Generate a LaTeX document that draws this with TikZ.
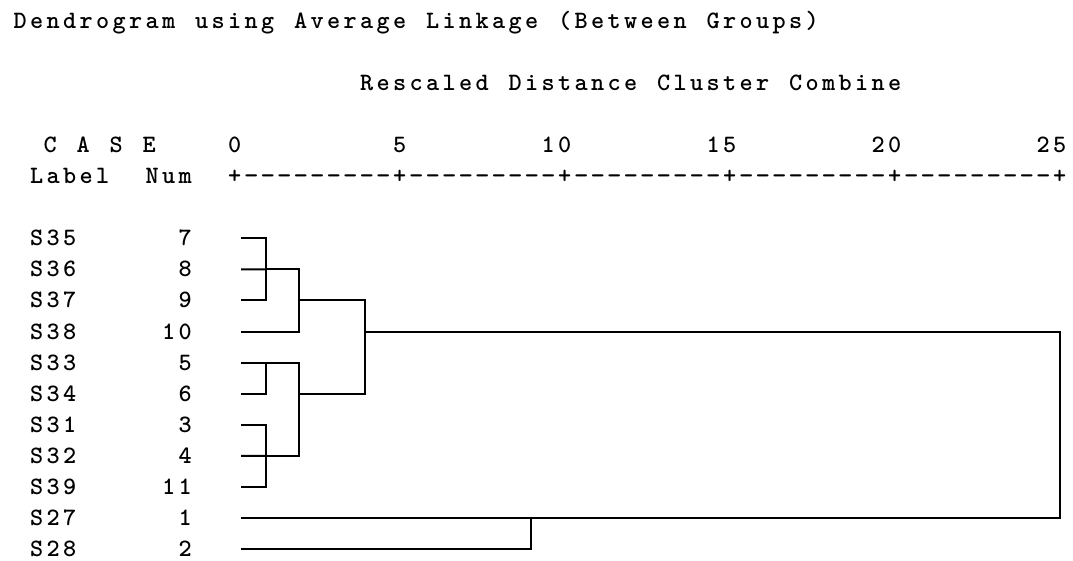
\documentclass[tikz,border=0pt]{standalone}
\usepackage{fontspec}
\usepackage{graphicx}
\makeatletter
\def\mwdash{-}
\newcommand\mw[1]{\@tfor\mwc:=#1\do{\ifx\mwc\mwdash\makebox[16.5pt][c]{\scalebox{1.1}[1]{-}}\else\makebox[16.5pt][c]{\mwc}\fi}}
\makeatother
\begin{document}
\begin{tikzpicture}[x=1pt,y=-1pt,
  txt/.style={inner sep=0pt,outer sep=0pt,font=\ttfamily\bfseries\fontsize{25}{25}\selectfont},
  lbl/.style={txt,anchor=base west},
  numr/.style={txt,anchor=base east},
  link/.style={line width=2pt}]
\useasboundingbox[fill=white] (0,0) rectangle (1073,560);
% header texts
\node[lbl] (title) at (12,28) {\mw{Dendrogram}};
\node[lbl] (t2) at (193.5,28) {\mw{using}};
\node[lbl] (t3) at (292.5,28) {\mw{Average}};
\node[lbl] (t4) at (424.5,28) {\mw{Linkage}};
\node[lbl] (t5) at (556.5,28) {\mw{(Between}};
\node[lbl] (t6) at (705,28) {\mw{Groups)}};
\node[lbl] (s1) at (358.5,90.2) {\mw{Rescaled}};
\node[lbl] (s2) at (507,90.2) {\mw{Distance}};
\node[lbl] (s3) at (655.5,90.2) {\mw{Cluster}};
\node[lbl] (s4) at (787.5,90.2) {\mw{Combine}};
\node[lbl] (hc) at (42,152.4) {\mw{C}};
\node[lbl] (ha) at (75,152.4) {\mw{A}};
\node[lbl] (hs) at (108,152.4) {\mw{S}};
\node[lbl] (he) at (141,152.4) {\mw{E}};
\node[lbl] (hlabel) at (28.5,183.5) {\mw{Label}};
\node[numr] (hnum) at (193.5,183.5) {\mw{Num}};
\node[lbl] (tk0) at (226.5,152.4) {\mw{0}};
\node[lbl] (tk5) at (391.5,152.4) {\mw{5}};
\node[lbl] (tk10) at (540,152.4) {\mw{10}};
\node[lbl] (tk15) at (705,152.4) {\mw{15}};
\node[lbl] (tk20) at (870,152.4) {\mw{20}};
\node[lbl] (tk25) at (1035,152.4) {\mw{25}};
\node[lbl] (axis) at (226.5,183.5) {\mw{+---------+---------+---------+---------+---------+}};
% cases
\foreach \r/\lab/\n in {7/S35/7,8/S36/8,9/S37/9,10/S38/10,11/S33/5,12/S34/6,13/S31/3,14/S32/4,15/S39/11,16/S27/1,17/S28/2}{
  \node[lbl] (lab\n) at (28.5,{28+31.1*\r}) {\expandafter\mw\expandafter{\lab}};
  \node[numr] (num\n) at (193.5,{28+31.1*\r}) {\expandafter\mw\expandafter{\n}};
  \coordinate (leaf\n) at (241,{20.5+31.1*\r});
}
% join points
\coordinate (j789) at (265.5,269.3);
\coordinate (k1) at (298.5,300.4);
\coordinate (j56) at (265.5,362.6);
\coordinate (j3) at (265.5,455.9);
\coordinate (k2) at (298.5,393.7);
\coordinate (m) at (364.5,331.5);
\coordinate (j12) at (530.5,518.1);
\coordinate (root) at (1060,424.8);
% links
\draw[link] (leaf7) -| (j789 |- leaf9) -- (leaf9);
\draw[link] (leaf8) -- (j789);
\draw[link] (j789) -| (k1 |- leaf10) -- (leaf10);
\draw[link] (leaf5) -| (j56 |- leaf6) -- (leaf6);
\draw[link] (leaf3) -| (j3 |- leaf11) -- (leaf11);
\draw[link] (leaf4) -- (j3);
\draw[link] (j56) -| (k2 |- j3) -- (j3);
\draw[link] (k1) -| (m |- k2) -- (k2);
\draw[link] (leaf1) -| (j12 |- leaf2) -- (leaf2);
\draw[link] (m) -| (root |- j12) -- (j12);
\end{tikzpicture}
\end{document}
